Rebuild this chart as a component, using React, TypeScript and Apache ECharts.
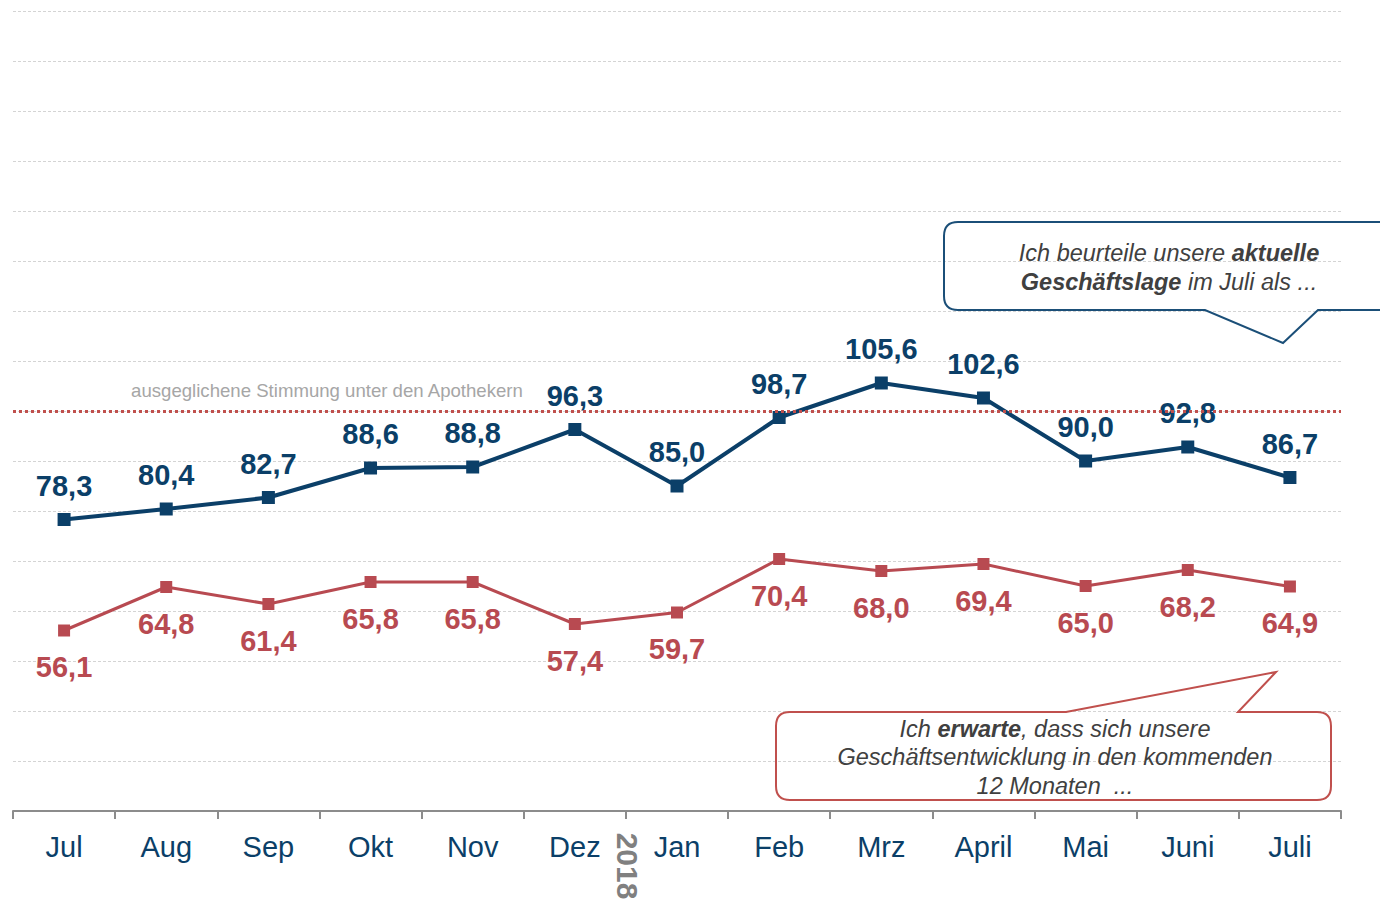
import React, { useEffect, useRef } from "react";
import * as echarts from "echarts";

const categories = ["Jul", "Aug", "Sep", "Okt", "Nov", "Dez", "Jan", "Feb", "Mrz", "April", "Mai", "Juni", "Juli"];
const currentSituation = [78.3, 80.4, 82.7, 88.6, 88.8, 96.3, 85.0, 98.7, 105.6, 102.6, 90.0, 92.8, 86.7];
const expectation = [56.1, 64.8, 61.4, 65.8, 65.8, 57.4, 59.7, 70.4, 68.0, 69.4, 65.0, 68.2, 64.9];
const neutralValue = 100;
const neutralLabel = "ausgeglichene Stimmung unter den Apothekern";
const yearLabel = "2018";

const BLUE = "#0b3f68";
const RED = "#b84a51";
const FONT = "Arial, 'Liberation Sans', sans-serif";

const blueCallout =
  "M 958 222 L 1396 222 L 1396 310 L 1318 310 L 1283 343 L 1205 310 L 958 310 Q 944 310 944 296 L 944 236 Q 944 222 958 222 Z";
const redCallout =
  "M 790 712 L 1066 712 L 1276 672 L 1238 712 L 1317 712 Q 1331 712 1331 726 L 1331 786 Q 1331 800 1317 800 L 790 800 Q 776 800 776 786 L 776 726 Q 776 712 790 712 Z";

try {
  echarts.graphic.registerShape("calloutBlue", echarts.graphic.extendPath(blueCallout, {}));
  echarts.graphic.registerShape("calloutRed", echarts.graphic.extendPath(redCallout, {}));
} catch (e) {}

const fmt = (v: number) => v.toFixed(1).replace(".", ",");

const CALLOUT_SIZE = 23.5;
const calloutTextStyle = (text: string, x: number, y: number) => ({
  type: "text",
  x,
  y,
  style: {
    text,
    fill: "#404040",
    fontFamily: FONT,
    fontSize: CALLOUT_SIZE,
    fontStyle: "italic",
    align: "center",
    verticalAlign: "middle",
    rich: {
      b: { fontFamily: FONT, fontSize: CALLOUT_SIZE, fontStyle: "italic", fontWeight: "bold", fill: "#404040", color: "#404040" },
    },
  },
  z: 10,
});

export default function App() {
  const ref = useRef<HTMLDivElement>(null);
  useEffect(() => {
    if (!ref.current) return;
    const chart = echarts.init(ref.current, undefined, { renderer: "svg" });
    chart.setOption({
      animation: false,
      backgroundColor: "#ffffff",
      grid: { left: 13, right: 39, top: 11, bottom: 92 },
      xAxis: {
        type: "category",
        data: categories,
        boundaryGap: true,
        axisLine: { lineStyle: { color: "#8c8c8c", width: 2 } },
        axisTick: { show: true, length: 8, lineStyle: { color: "#8c8c8c", width: 2 } },
        axisLabel: { color: BLUE, fontSize: 29, fontFamily: FONT, margin: 21 },
      },
      yAxis: {
        type: "value",
        min: 20,
        max: 180,
        interval: 10,
        axisLabel: { show: false },
        axisLine: { show: false },
        axisTick: { show: false },
        splitLine: { lineStyle: { color: "#d4d4d4", type: [3, 2], width: 1 } },
      },
      series: [
        {
          name: "aktuelle Geschäftslage",
          type: "line",
          data: currentSituation,
          symbol: "rect",
          symbolSize: 13,
          itemStyle: { color: BLUE },
          lineStyle: { color: BLUE, width: 4 },
          label: {
            show: true,
            position: "top",
            distance: 13,
            formatter: (p: any) => fmt(p.value),
            color: BLUE,
            fontSize: 29,
            fontWeight: "bold",
            fontFamily: FONT,
          },
          markLine: {
            silent: true,
            symbol: "none",
            label: { show: false },
            lineStyle: { color: "#c0504d", type: [3, 3], width: 3 },
            data: [{ yAxis: neutralValue }],
          },
          z: 3,
        },
        {
          name: "Erwartung",
          type: "line",
          data: expectation,
          symbol: "rect",
          symbolSize: 12,
          itemStyle: { color: RED },
          lineStyle: { color: RED, width: 3 },
          label: {
            show: true,
            position: "bottom",
            distance: 16,
            formatter: (p: any) => fmt(p.value),
            color: RED,
            fontSize: 29,
            fontWeight: "bold",
            fontFamily: FONT,
          },
          z: 3,
        },
      ],
      graphic: [
        {
          type: "text",
          x: 327,
          y: 390,
          style: {
            text: neutralLabel,
            fill: "#a6a6a6",
            fontSize: 18.6,
            fontFamily: FONT,
            align: "center",
            verticalAlign: "middle",
          },
        },
        {
          type: "text",
          x: 627,
          y: 866,
          rotation: -Math.PI / 2,
          style: {
            text: yearLabel,
            fill: "#808080",
            fontSize: 30,
            fontWeight: "bold",
            fontFamily: FONT,
            align: "center",
            verticalAlign: "middle",
          },
        },
        {
          type: "calloutBlue",
          x: 0,
          y: 0,
          style: { fill: "none", stroke: "#1b4f78", lineWidth: 2 },
          z: 5,
        },
        {
          type: "calloutRed",
          x: 0,
          y: 0,
          style: { fill: "none", stroke: "#c0504d", lineWidth: 2 },
          z: 5,
        },
        calloutTextStyle("Ich beurteile unsere {b|aktuelle}", 1169, 253),
        calloutTextStyle("{b|Geschäftslage} im Juli als ...", 1169, 282),
        calloutTextStyle("Ich {b|erwarte}, dass sich unsere", 1055, 729),
        calloutTextStyle("Geschäftsentwicklung in den kommenden", 1055, 757),
        calloutTextStyle("12 Monaten  ...", 1055, 786),
      ],
    });
    return () => chart.dispose();
  }, []);
  return (
    <div
      ref={ref}
      style={{ position: "fixed", left: 0, top: 0, width: 1380, height: 903, background: "#fff" }}
    />
  );
}
